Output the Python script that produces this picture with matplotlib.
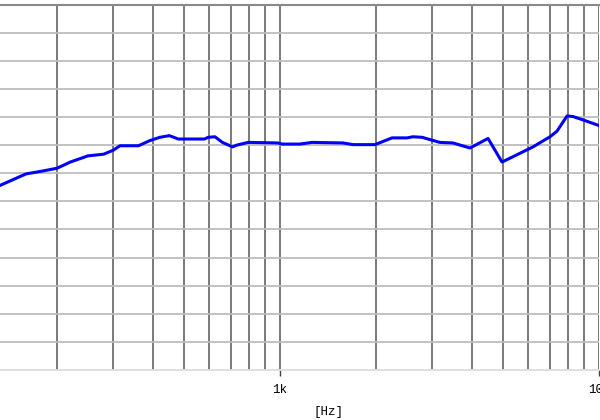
import numpy as np
import matplotlib.pyplot as plt
from matplotlib.ticker import NullFormatter

# frequency response
freq = [132, 160, 168, 180, 200, 220, 250, 280, 300, 315, 360, 390, 420, 450,
        480, 580, 595, 625, 660, 710, 730, 795, 985, 1014, 1155, 1260, 1575,
        1695, 1985, 2245, 2500, 2610, 2790, 3170, 3485, 3940, 4490, 4965,
        5530, 6210, 7020, 7385, 7940, 8290, 8910, 10000]
level = [72.8, 74.9, 75.1, 75.4, 75.9, 77.0, 78.1, 78.4, 79.1, 79.9, 79.9,
         80.8, 81.4, 81.7, 81.1, 81.1, 81.4, 81.5, 80.5, 79.7, 80.0, 80.5,
         80.4, 80.2, 80.2, 80.5, 80.4, 80.1, 80.1, 81.3, 81.3, 81.5, 81.4,
         80.5, 80.4, 79.5, 81.2, 77.0, 78.3, 79.7, 81.5, 82.5, 85.2, 85.1,
         84.5, 83.5]

db_min, db_max, db_step = 40, 105, 5
major_ticks = [1000, 10000]
major_labels = ['1k', '10k']

fig = plt.figure(figsize=(6, 4.2), dpi=100)
ax = fig.add_axes([0, 50/420, 599/600, 365.3/420])

ax.set_xscale('log')
ax.set_xlim(10**(3 - 280/319), 10000)
ax.set_ylim(db_min, db_max)

# grid: dark verticals, light horizontals
minor = [m * d for d in (100, 1000) for m in range(2, 10)]
for f in minor + major_ticks:
    ax.axvline(f, color='#707070', lw=1.3, zorder=1)
for v in np.arange(db_min + db_step, db_max, db_step):
    ax.axhline(v, color='#bdbdbd', lw=1.3, zorder=1)

ax.plot(freq, level, color='#0000ff', lw=2.2, zorder=3)

ax.set_xticks(major_ticks, major_labels)
ax.xaxis.set_minor_formatter(NullFormatter())
ax.tick_params(axis='x', which='minor', length=0)
ax.tick_params(axis='x', which='major', length=4, width=1, color='#404040',
               pad=6, labelsize=9)
for t in ax.get_xticklabels():
    t.set_family('Liberation Mono')
ax.set_yticks([])

for s in ('left', 'right'):
    ax.spines[s].set_visible(False)
ax.spines['top'].set_color('#8a8a8a')
ax.spines['top'].set_linewidth(1.5)
ax.spines['bottom'].set_color('#dcdcdc')
ax.spines['bottom'].set_linewidth(1.3)

fig.text(328.5/600, 1 - 412/420, '[Hz]', ha='center', va='center',
         family='Liberation Mono', fontsize=9)

fig.savefig('out.png', dpi=100)
